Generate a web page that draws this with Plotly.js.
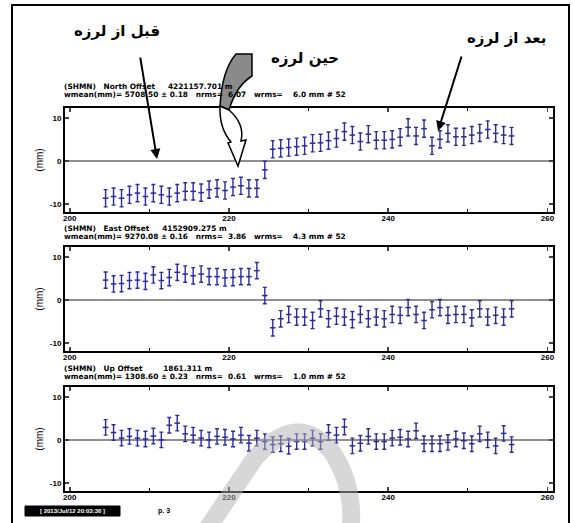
<!DOCTYPE html>
<html>
<head>
<meta charset="utf-8">
<script src="https://cdn.plot.ly/plotly-3.0.1.min.js"></script>
<style>html,body{margin:0;padding:0;background:#fff}#chart{width:573px;height:523px}</style>
</head>
<body>
<div id="chart"></div>
<script>
// ---- data (day of year, daily solutions) ----
const days = [204.5,205.5,206.5,207.5,208.5,209.5,210.5,211.5,212.5,213.5,214.5,215.5,216.5,217.5,218.5,219.5,220.5,221.5,222.5,223.5,
  224.5,
  225.5,226.5,227.5,228.5,229.5,230.5,231.5,232.5,233.5,234.5,235.5,236.5,237.5,238.5,239.5,240.5,241.5,242.5,243.5,244.5,245.5,246.5,247.5,248.5,249.5,250.5,251.5,252.5,253.5,254.5,255.5];

const northMM = [-8.7,-8.3,-8.7,-7.9,-7.5,-8.3,-7.5,-7.9,-8.3,-7.5,-7.1,-7.1,-7.4,-6.7,-6.4,-6.9,-6.1,-5.8,-6.4,-6.4,
  -2.1,
  2.7,2.9,3.1,3.3,3.5,4.1,4.2,4.7,5.2,6.8,6.0,4.5,6.2,4.8,4.8,5.0,5.5,7.8,5.8,7.5,3.5,5.0,6.4,5.6,5.6,6.0,6.5,7.3,6.4,6.0,5.8];

const eastMM = [4.6,3.7,3.8,4.5,4.6,4.3,5.8,4.5,5.2,6.4,6.0,5.6,6.0,5.4,5.4,5.1,5.2,5.4,5.4,6.8,
  1.0,
  -6.5,-4.4,-3.4,-4.0,-4.0,-4.8,-2.1,-4.4,-3.8,-4.0,-4.6,-3.4,-4.4,-4.0,-4.4,-3.4,-3.6,-1.8,-3.4,-4.8,-2.3,-1.8,-3.6,-3.4,-3.4,-4.2,-2.1,-4.0,-3.6,-4.0,-2.1];

const upMM = [2.9,1.7,0.4,0.8,0.4,0.2,0.9,0.0,3.4,3.9,1.4,1.1,0.4,0.0,0.8,0.6,0.2,1.1,-0.8,0.4,
  -0.4,
  -1.1,-0.9,-1.5,-0.4,-0.4,0.4,-0.4,1.7,1.1,3.0,-1.4,-0.8,0.8,-0.4,-0.4,0.4,0.6,0.2,2.1,-0.9,-0.9,-0.9,-0.6,0.2,-0.2,-0.9,1.4,0.0,-1.4,1.5,-1.1];

const northSigma = 2.0, eastSigma = 1.9, upSigma = 1.8;

const xTicks = [200,220,240,260];
const xMinor = [210,230,250];
const yTicks = [-10,0,10];
const yTickText = ['-10','0','10'];

const headers = [
  ['(SHMN)   North Offset     4221157.701 m', 'wmean(mm)= 5708.50 \u00b1 0.18   nrms=  6.07   wrms=    6.0 mm # 52'],
  ['(SHMN)   East Offset     4152909.275 m', 'wmean(mm)= 9270.08 \u00b1 0.16   nrms=  3.86   wrms=    4.3 mm # 52'],
  ['(SHMN)   Up Offset        1861.311 m', 'wmean(mm)= 1308.60 \u00b1 0.23   nrms=  0.61   wrms=    1.0 mm # 52']
];
const labelBefore = 'قبل از لرزه';
const labelDuring = 'حین لرزه';
const labelAfter = 'بعد از لرزه';
const stampText = '[ 2013/Jul/12 20:03:36 ]';
const pageText = 'p. 3';

// ---- layout helpers (pixel -> paper) ----
const W = 573, H = 523;
const px = x => x / W;
const py = y => 1 - y / H;
const pth = pts => pts.map(p => (px(p[0]).toFixed(5) + ',' + py(p[1]).toFixed(5))).join(' ');

const blue = '#2c2c92';
const panels = [
  {vals: northMM, sig: northSigma, top: 108, bot: 212, hy: 87},
  {vals: eastMM, sig: eastSigma, top: 247, bot: 351, hy: 228},
  {vals: upMM, sig: upSigma, top: 387, bot: 491, hy: 368}
];

const traces = [];
const layout = {
  width: W, height: H,
  margin: {l: 0, r: 0, t: 0, b: 0},
  paper_bgcolor: '#fff', plot_bgcolor: '#fff',
  showlegend: false,
  font: {family: 'Liberation Sans, Arial, sans-serif', color: '#000'},
  annotations: [], shapes: []
};

const tickFont = {family: 'Liberation Sans, Arial, sans-serif', size: 8, color: '#000', weight: 'bold'};

panels.forEach((p, i) => {
  const n = i === 0 ? '' : String(i + 1);
  traces.push({
    type: 'scatter', mode: 'markers',
    x: days, y: p.vals,
    xaxis: 'x' + n, yaxis: 'y' + n,
    marker: {symbol: 'line-ew-open', size: 4, color: blue, line: {color: blue, width: 1.5}},
    error_y: {type: 'constant', value: p.sig, color: blue, thickness: 1.4, width: 2},
    hoverinfo: 'skip'
  });
  layout['xaxis' + n] = {
    domain: [px(65), px(553)], anchor: 'y' + n, range: [199.4, 260.7],
    tickvals: xTicks, ticktext: xTicks.map(String), ticks: 'inside', ticklen: 4, tickwidth: 1.5,
    showline: true, mirror: 'allticks', linecolor: '#000', linewidth: 2,
    showgrid: false, zeroline: false, tickfont: tickFont, ticklabelstandoff: -3,
    minor: {tickvals: xMinor, ticks: 'inside', ticklen: 3, tickwidth: 1, tickcolor: '#000'}
  };
  layout['yaxis' + n] = {
    domain: [py(p.bot), py(p.top)], anchor: 'x' + n, range: [-11.9, 12.3],
    tickvals: yTicks, ticktext: yTickText, ticks: 'inside', ticklen: 4, tickwidth: 1.5,
    showline: true, mirror: 'allticks', linecolor: '#000', linewidth: 2,
    showgrid: false, zeroline: true, zerolinecolor: '#8f8f8f', zerolinewidth: 2,
    tickfont: tickFont,
    title: {text: '(mm)', font: {family: 'Liberation Sans, Arial, sans-serif', size: 10, color: '#000'}, standoff: 4}
  };
  headers[i].forEach((t, k) => {
    layout.annotations.push({
      xref: 'paper', yref: 'paper', x: px(62), y: py(p.hy + k * 8),
      xanchor: 'left', yanchor: 'middle', showarrow: false, text: t,
      font: {family: 'DejaVu Sans, sans-serif', size: 7.4, color: '#000', weight: 'bold'}
    });
  });
});

const arFont = {family: 'DejaVu Sans, sans-serif', size: 15, color: '#000', weight: 'bold'};
layout.annotations.push(
  {xref: 'paper', yref: 'paper', x: px(117), y: py(31), xanchor: 'center', yanchor: 'middle', showarrow: false, text: labelBefore, font: arFont},
  {xref: 'paper', yref: 'paper', x: px(305), y: py(58), xanchor: 'center', yanchor: 'middle', showarrow: false, text: labelDuring, font: arFont},
  {xref: 'paper', yref: 'paper', x: px(506), y: py(38), xanchor: 'center', yanchor: 'middle', showarrow: false, text: labelAfter, font: arFont},
  {xref: 'paper', yref: 'paper', x: px(157), y: py(159), ax: -17, ay: -103,
   showarrow: true, text: '', arrowhead: 2, arrowsize: 1, arrowwidth: 2, arrowcolor: '#000'},
  {xref: 'paper', yref: 'paper', x: px(438), y: py(131), ax: 24, ay: -76,
   showarrow: true, text: '', arrowhead: 2, arrowsize: 1, arrowwidth: 2, arrowcolor: '#000'},
  {xref: 'paper', yref: 'paper', x: px(72), y: py(511), xanchor: 'center', yanchor: 'middle', showarrow: false, text: stampText,
   font: {family: 'Liberation Sans, Arial, sans-serif', size: 6, color: '#fff', weight: 'bold'}},
  {xref: 'paper', yref: 'paper', x: px(164), y: py(511), xanchor: 'center', yanchor: 'middle', showarrow: false, text: pageText,
   font: {family: 'Liberation Sans, Arial, sans-serif', size: 7, color: '#000', weight: 'bold'}}
);

layout.shapes.push(
  {type: 'rect', xref: 'paper', yref: 'paper', x0: px(12), x1: px(569), y0: py(530), y1: py(5),
   line: {color: '#000', width: 2}, layer: 'below'},
  {type: 'rect', xref: 'paper', yref: 'paper', x0: px(25), x1: px(120), y0: py(516), y1: py(506),
   fillcolor: '#000', line: {color: '#000', width: 1}, layer: 'below'},
  {type: 'path', xref: 'paper', yref: 'paper', layer: 'above',
   path: 'M' + pth([[236,54]]) + ' L' + pth([[252,54]]) + ' L' + pth([[252,76]]) + ' Q' + pth([[236,86],[229,110]]) +
         ' L' + pth([[220,106]]) + ' Q' + pth([[222,70],[236,54]]) + ' Z',
   fillcolor: '#8a8a8a', line: {color: '#000', width: 1.5}},
  {type: 'path', xref: 'paper', yref: 'paper', layer: 'above',
   path: 'M' + pth([[220,106]]) + ' Q' + pth([[219,128],[231,142]]) + ' L' + pth([[228,143]]) + ' L' + pth([[238,166]]) +
         ' L' + pth([[246,140]]) + ' L' + pth([[241,141]]) + ' Q' + pth([[245,124],[229,110]]) + ' Z',
   fillcolor: '#fff', line: {color: '#000', width: 1.5}},
  {type: 'path', xref: 'paper', yref: 'paper', layer: 'above',
   path: 'M' + pth([[203,535]]) + ' L' + pth([[255,458]]) + ' Q' + pth([[298,410],[332,452]]) + ' Q' + pth([[356,488],[350,535]]),
   line: {color: 'rgba(175,175,175,0.5)', width: 18}}
);

Plotly.newPlot('chart', traces, layout, {staticPlot: true, displayModeBar: false});
</script>
</body>
</html>
